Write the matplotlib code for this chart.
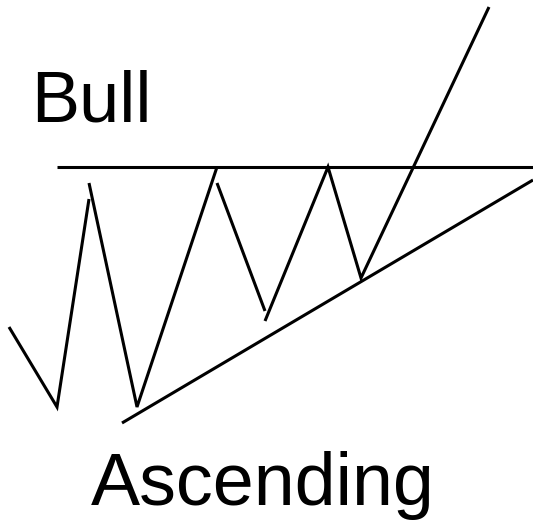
import matplotlib.pyplot as plt
import numpy as np

# price path pieces (x, y in picture units, y grows downward)
seg1_x = [9, 57, 89]
seg1_y = [327, 407, 199]
seg2_x = [89, 137, 217]
seg2_y = [183, 407, 167]
seg3_x = [217, 265]
seg3_y = [183, 311]
seg4_x = [265, 328, 361, 489]
seg4_y = [321, 167, 278, 7]

# resistance and rising support
resist_x = [57, 533]
resist_y = [167, 167]
support_x = [122, 533]
support_y = [423, 180]

top_label = "Bull"
bottom_label = "Ascending"

fig = plt.figure(figsize=(5.33, 5.23), dpi=100)
ax = fig.add_axes([0, 0, 1, 1])
ax.set_xlim(0, 533)
ax.set_ylim(523, 0)
ax.axis('off')

lw = 2.2
for xs, ys in [(seg1_x, seg1_y), (seg2_x, seg2_y), (seg3_x, seg3_y),
               (seg4_x, seg4_y), (resist_x, resist_y), (support_x, support_y)]:
    ax.plot(xs, ys, color='black', lw=lw, solid_capstyle='butt',
            solid_joinstyle='miter')

ax.text(31, 122, top_label, fontsize=52, family='Liberation Sans',
        ha='left', va='baseline')
ax.text(91, 505, bottom_label, fontsize=53, family='Liberation Sans',
        ha='left', va='baseline')

plt.savefig('out.png', dpi=100)
